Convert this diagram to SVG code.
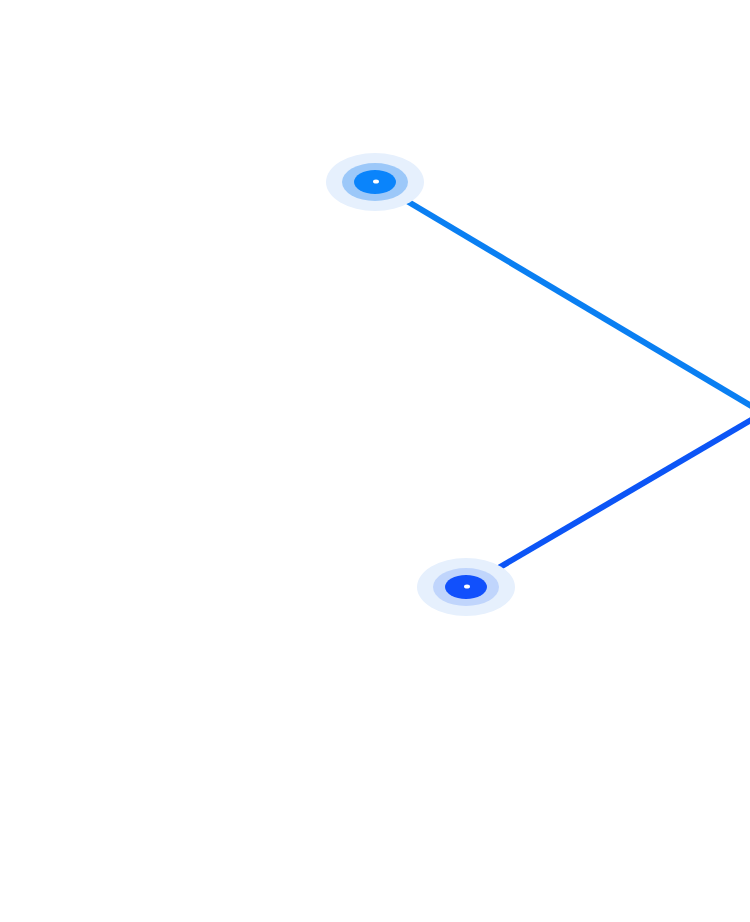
<svg xmlns="http://www.w3.org/2000/svg" width="750" height="922" viewBox="0 0 750 922">
<style>.halo{fill:#e6f0fd}.dot{fill:#fff}.ln{stroke-width:6;fill:none;stroke-linecap:butt}</style>
<rect width="750" height="922" fill="#fff"/>
<g id="connectors">
<line class="ln" x1="375" y1="182" x2="763" y2="413" stroke="#0a7ff2"/>
<line class="ln" x1="466" y1="587" x2="763" y2="413" stroke="#0c55f6"/>
</g>
<g id="node-top">
<ellipse class="halo" cx="375" cy="182" rx="49" ry="29"/>
<ellipse cx="375" cy="182" rx="33" ry="19" fill="#9cc8f9"/>
<ellipse cx="375" cy="182" rx="21" ry="12" fill="#0a84fb"/>
<ellipse class="dot" cx="376" cy="181.5" rx="3" ry="2"/>
</g>
<g id="node-bottom">
<ellipse class="halo" cx="466" cy="587" rx="49" ry="29"/>
<ellipse cx="466" cy="587" rx="33" ry="19" fill="#c0d5fc"/>
<ellipse cx="466" cy="587" rx="21" ry="12" fill="#1150fc"/>
<ellipse class="dot" cx="467" cy="586.5" rx="3" ry="2"/>
</g>
</svg>
